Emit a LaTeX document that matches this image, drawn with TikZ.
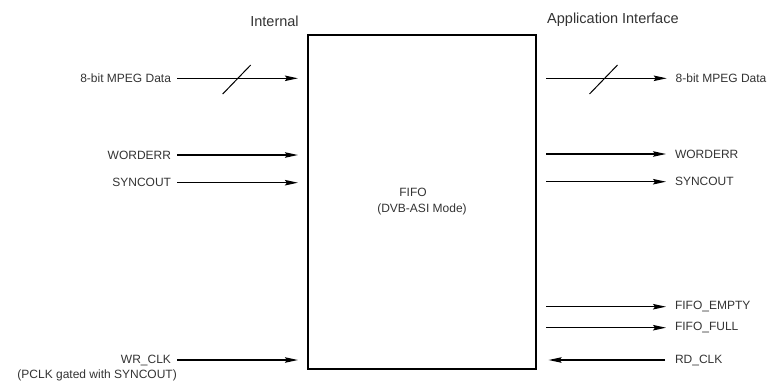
\documentclass[tikz,border=0pt]{standalone}
\usepackage{fontspec}
\setmainfont{Liberation Sans}
\usetikzlibrary{arrows.meta}
\begin{document}
\begin{tikzpicture}[x=1pt,y=-1pt,
  txt/.style={text=black!80, font=\fontsize{12}{14}\selectfont, inner sep=0pt},
  llab/.style={txt, anchor=east, outer xsep=6pt},
  rlab/.style={txt, anchor=west, outer xsep=9pt},
  head/.style={text=black!80, font=\fontsize{14.5}{17}\selectfont, inner sep=0pt},
  sig/.style={line width=1.2pt, -{Stealth[length=13pt,width=5.5pt,inset=2pt]}},
  bus/.style={line width=1pt},
  blk/.style={draw, line width=1.2pt, minimum width=228pt, minimum height=334pt, inner sep=0pt}]
\useasboundingbox (0,0) rectangle (767,384);

% FIFO block
\node[blk] (fifo) at (422,202) {};
\node[txt, align=center, font=\fontsize{12}{16}\selectfont] (fifotxt) at (422,202) {FIFO\hspace*{18pt}\\(DVB-ASI Mode)};

% headings
\node[head] (hint) at (274.5,21) {Internal};
\node[head, anchor=west] (happ) at (547,20) {Application Interface};

% left side signals
\node[llab] (ldata) at (177,78.3) {8-bit MPEG Data};
\node[llab] (lword) at (177,155) {WORDERR};
\node[llab] (lsync) at (177,182.7) {SYNCOUT};
\node[llab] (lwr) at (177,360) {WR\_CLK};
\node[txt, anchor=north east] (lwrnote) at (177,370) {(PCLK gated with SYNCOUT)};

\foreach \n in {ldata,lword,lsync,lwr}
  \draw[sig, shorten >=9.5pt] (\n.east) -- (\n.east -| fifo.west);

% right side signals
\node[rlab] (rdata) at (666.7,78.3) {8-bit MPEG Data};
\node[rlab] (rword) at (666,154) {WORDERR};
\node[rlab] (rsync) at (666,181.7) {SYNCOUT};
\node[rlab] (rempty) at (666,306.7) {FIFO\_EMPTY};
\node[rlab] (rfull) at (666,327.7) {FIFO\_FULL};
\node[rlab] (rrd) at (666,360) {RD\_CLK};

\foreach \n in {rdata,rword,rsync,rempty,rfull}
  \draw[sig, shorten <=9.5pt] (fifo.east |- \n.west) -- (\n.west);
\draw[sig, shorten >=12pt, shorten <=1pt] (rrd.west) -- (fifo.east |- rrd.west);

% bus slashes
\coordinate (ls1) at (222.7,94);
\coordinate (ls2) at (250.7,65);
\coordinate (rs1) at (589.5,94);
\coordinate (rs2) at (617.5,65);
\draw[bus] (ls1) -- (ls2);
\draw[bus] (rs1) -- (rs2);
\end{tikzpicture}
\end{document}
